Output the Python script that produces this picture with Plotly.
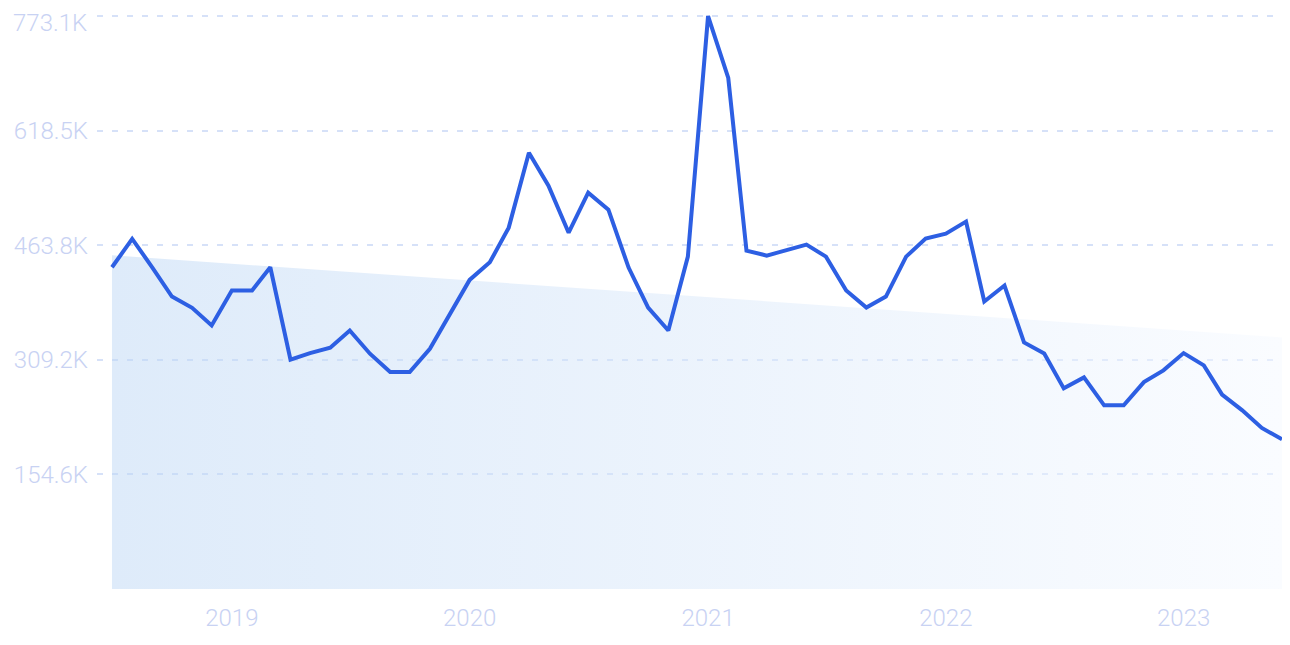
import pandas as pd
import plotly.graph_objects as go

# Monthly values (thousands), Jul 2018 .. Jun 2023
months = pd.date_range("2018-07-01", "2023-06-01", freq="MS")
values_k = [
    434.1, 472.4, 433.7, 394.6, 379.4, 355.6,            # 2018 Jul-Dec
    402.7, 402.7, 434.1, 309.4, 318.3, 325.6,            # 2019 Jan-Jun
    348.8, 317.5, 292.7, 292.7, 324.2, 369.0,            # 2019 Jul-Dec
    417.1, 440.8, 487.6, 588.6, 544.1, 480.8,            # 2020 Jan-Jun
    534.7, 511.8, 433.7, 379.8, 348.8, 448.5,            # 2020 Jul-Dec
    773.1, 689.6, 456.6, 449.9, 456.6, 464.7,            # 2021 Jan-Jun
    448.5, 402.7, 379.8, 394.6, 448.5, 472.8,            # 2021 Jul-Dec
    479.5, 495.7, 387.9, 409.5, 332.7, 317.9,            # 2022 Jan-Jun
    270.7, 285.5, 247.8, 247.8, 279.2, 295.0,            # 2022 Jul-Dec
    318.3, 301.7, 262.2, 241.1, 217.3, 202.0,            # 2023 Jan-Jun
]
values = [v * 1000 for v in values_k]

# Trend line end points (thousands)
trend_dates = [months[0], months[-1]]
trend_k = [450.2, 339.4]
trend = [v * 1000 for v in trend_k]

y_tickvals = [154620, 309240, 463860, 618480, 773090]
y_ticktext = ["154.6K", "309.2K", "463.8K", "618.5K", "773.1K"]
x_tickvals = ["2019-01-01", "2020-01-01", "2021-01-01", "2022-01-01", "2023-01-01"]
x_ticktext = ["2019", "2020", "2021", "2022", "2023"]

label_font = dict(family="Roboto", size=24, color="#c8d2f3", weight=300)
grid_color = "#d6e1f8"

fig = go.Figure()
fig.add_trace(go.Scatter(
    x=trend_dates, y=trend, mode="lines",
    line=dict(width=0, color="rgba(0,0,0,0)"),
    fill="tozeroy",
    fillgradient=dict(
        type="horizontal",
        colorscale=[[0, "rgba(189,215,245,0.5)"], [1, "rgba(245,249,255,0.5)"]],
    ),
    hoverinfo="skip", showlegend=False,
))
fig.add_trace(go.Scatter(
    x=months, y=values, mode="lines",
    line=dict(color="#2d5fe3", width=4),
    showlegend=False, cliponaxis=False,
))

# top tick label drawn as annotation, nudged down so it stays inside the page
fig.add_annotation(
    x=0, xref="paper", xanchor="right", xshift=-8,
    y=y_tickvals[-1], yref="y", yanchor="middle", yshift=-7,
    text=y_ticktext[-1], showarrow=False, font=label_font,
)

# page body has an 8px default margin, so the figure is offset by 8px
fig.update_layout(
    width=1274, height=629,
    margin=dict(l=89, r=0, t=7, b=48, autoexpand=False),
    paper_bgcolor="white", plot_bgcolor="white",
)
fig.update_xaxes(
    range=["2018-06-08", "2023-06-01"],
    tickvals=x_tickvals, ticktext=x_ticktext,
    showgrid=False, zeroline=False, showline=False, automargin=False,
    tickfont=label_font, ticklabelstandoff=12,
)
fig.update_yaxes(
    range=[0, 774500],
    tickvals=y_tickvals, ticktext=y_ticktext[:-1] + [""],
    showgrid=True, gridcolor=grid_color, griddash="6px,9px", gridwidth=1.5,
    zeroline=False, showline=False, automargin=False,
    tickfont=label_font, ticklabelstandoff=8,
)

fig.write_html("out.html")
